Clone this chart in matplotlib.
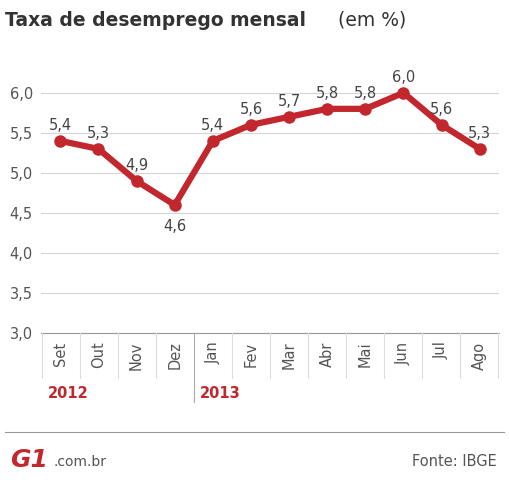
import matplotlib.pyplot as plt
from matplotlib.lines import Line2D

months = ["Set", "Out", "Nov", "Dez", "Jan", "Fev", "Mar", "Abr", "Mai", "Jun", "Jul", "Ago"]
rates = [5.4, 5.3, 4.9, 4.6, 5.4, 5.6, 5.7, 5.8, 5.8, 6.0, 5.6, 5.3]
years = [("2012", 0), ("2013", 4)]
yticks = [3.0, 3.5, 4.0, 4.5, 5.0, 5.5, 6.0]

red = "#c1272d"
grey = "#555555"

fig = plt.figure(figsize=(5.09, 4.8), dpi=100)
ax = fig.add_axes([0.081, 0.306, 0.899, 0.534])

x = list(range(len(months)))
ax.plot(x, rates, color=red, lw=4.5, marker="o", ms=8, zorder=3)
for xi, v in zip(x, rates):
    below = xi == 3
    ax.text(xi, v + (-0.17 if below else 0.1), f"{v:.1f}".replace(".", ","),
            ha="center", va="top" if below else "bottom", fontsize=10.5, color="#444444", zorder=4)

ax.set_xlim(-0.5, 11.5)
ax.set_ylim(3.0, 6.2)
ax.set_yticks(yticks)
ax.set_yticklabels([f"{t:.1f}".replace(".", ",") for t in yticks], fontsize=10.5, color=grey)
ax.set_xticks(x)
ax.set_xticklabels(months, rotation=90, fontsize=10.5, color=grey)
ax.tick_params(length=0, pad=6)
ax.grid(axis="y", color="#d5d5d5", lw=0.8)
for s in ["top", "right", "left"]:
    ax.spines[s].set_visible(False)
ax.spines["bottom"].set_color("#999999")

# separators below the axis
for i in range(len(months) + 1):
    xf = (42 + 38 * i) / 509
    if i == 4:
        fig.add_artist(Line2D([xf, xf], [1 - 333 / 480, 1 - 402 / 480], color="#aaaaaa", lw=0.8))
    else:
        fig.add_artist(Line2D([xf, xf], [1 - 333 / 480, 1 - 378 / 480], color="#dddddd", lw=0.8))
for label, i in years:
    fig.text((48 + 38 * i) / 509, 1 - 393 / 480, label, color=red, fontsize=10.5,
             fontweight="bold", va="center")

fig.text(0.01, 1 - 20 / 480, "Taxa de desemprego mensal", fontsize=13.5, fontweight="bold",
         color="#333333", va="center")
fig.text(0.665, 1 - 20 / 480, "(em %)", fontsize=13.5, color="#333333", va="center")

fig.add_artist(Line2D([0.01, 0.99], [1 - 432 / 480] * 2, color="#999999", lw=0.8))
fig.text(0.02, 1 - 460 / 480, "G1", fontsize=18, fontweight="bold", color=red, va="center",
         style="italic")
fig.text(0.105, 1 - 462 / 480, ".com.br", fontsize=10, color=grey, va="center")
fig.text(0.975, 1 - 462 / 480, "Fonte: IBGE", fontsize=10.5, color=grey, va="center", ha="right")

fig.savefig("out.png", dpi=100)
